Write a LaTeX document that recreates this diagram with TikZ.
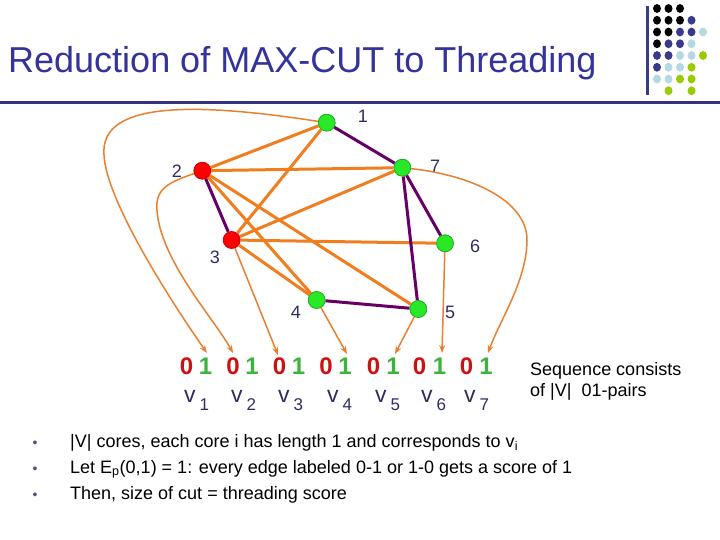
\documentclass[tikz,border=0pt]{standalone}
\usepackage{fontspec}
\setmainfont{Liberation Sans}
\usetikzlibrary{arrows.meta}
\definecolor{titc}{RGB}{51,51,153}
\definecolor{rulec}{RGB}{51,51,128}
\definecolor{labc}{RGB}{45,45,100}
\definecolor{orE}{RGB}{240,125,30}
\definecolor{orT}{RGB}{232,128,48}
\definecolor{puE}{RGB}{102,0,102}
\definecolor{gfill}{RGB}{40,232,40}
\definecolor{gline}{RGB}{30,170,30}
\definecolor{rfill}{RGB}{255,0,0}
\definecolor{rline}{RGB}{200,0,0}
\definecolor{zeroc}{RGB}{204,17,17}
\definecolor{onec}{RGB}{60,180,60}
\definecolor{dnavy}{RGB}{58,58,140}
\definecolor{dlight}{RGB}{180,216,228}
\definecolor{dgreen}{RGB}{153,204,0}
\definecolor{bulc}{RGB}{80,80,130}
\newcommand\myvlab[1]{v\hspace{4pt}\raisebox{-8pt}{\fontsize{17}{17}\selectfont #1}}
\begin{document}
\begin{tikzpicture}[x=1pt,y=-1pt,
  vert/.style={circle,minimum size=17pt,inner sep=0pt,line width=0.8pt},
  gv/.style={vert,fill=gfill,draw=gline},
  rv/.style={vert,fill=rfill,draw=rline},
  lab/.style={font=\fontsize{18}{18}\selectfont,text=labc,inner sep=0pt},
  cutE/.style={draw=orE,line width=3pt},
  inE/.style={draw=puE,line width=3pt},
  thr/.style={draw=orT,line width=1.5pt,-{Stealth[length=8pt,width=6pt]}},
  zero/.style={font=\bfseries\fontsize{24}{24}\selectfont,text=zeroc,inner sep=0pt},
  one/.style={font=\bfseries\fontsize{24}{24}\selectfont,text=onec,inner sep=0pt},
  vl/.style={font=\fontsize{23}{23}\selectfont,text=labc,inner sep=0pt,anchor=base west},
  btext/.style={font=\fontsize{18}{18}\selectfont,anchor=base west,inner sep=0pt},
  bul/.style={font=\fontsize{14}{14}\selectfont,text=bulc,inner sep=0pt,anchor=base}
]
\useasboundingbox (0,0) rectangle (720,540);
% header
\node[anchor=base west,inner sep=0pt,font=\fontsize{36}{40}\selectfont,text=titc] (title) at (8,73) {Reduction of MAX-CUT to Threading};
\draw[rulec,line width=3pt] (0,102.5) -- (720,102.5);
\draw[dnavy,line width=3pt] (647,6) -- (647,95);
\foreach \c/\r/\col in {1/1/black,2/1/black,3/1/black,
  1/2/black,2/2/black,3/2/black,4/2/dnavy,
  1/3/black,2/3/black,3/3/dnavy,4/3/dnavy,5/3/dlight,
  1/4/black,2/4/dnavy,3/4/dnavy,4/4/dlight,
  1/5/dnavy,2/5/dnavy,3/5/dlight,4/5/dlight,5/5/dgreen,
  1/6/dnavy,2/6/dlight,3/6/dlight,4/6/dgreen,
  1/7/dlight,2/7/dlight,3/7/dgreen,4/7/dgreen,
  2/8/dgreen,4/8/dgreen}
  \fill[\col] ({657+(\c-1)*11.5},{8.5+(\r-1)*11.75}) ellipse (4pt and 4.4pt);
% vertices
\node[gv] (n1) at (326.7,122.7) {};
\node[gv] (n7) at (402.3,167.7) {};
\node[rv] (n2) at (202.3,170.7) {};
\node[rv] (n3) at (231.7,240) {};
\node[gv] (n6) at (445,243.3) {};
\node[gv] (n4) at (316.7,300) {};
\node[gv] (n5) at (418.3,309) {};
\node[lab] (l1) at (363,116) {1};
\node[lab] (l7) at (435,166) {7};
\node[lab] (l2) at (177,171) {2};
\node[lab] (l3) at (215,257) {3};
\node[lab] (l6) at (475,246) {6};
\node[lab] (l4) at (296,312) {4};
\node[lab] (l5) at (450,312) {5};
% edges
\draw[cutE] (n1) -- (n2);
\draw[cutE] (n1) -- (n3);
\draw[cutE] (n2) -- (n7);
\draw[cutE] (n3) -- (n7);
\draw[cutE] (n3) -- (n6);
\draw[cutE] (n2) -- (n4);
\draw[cutE] (n2) -- (n5);
\draw[cutE] (n3) -- (n4);
\draw[inE] (n1) -- (n7);
\draw[inE] (n2) -- (n3);
\draw[inE] (n7) -- (n6);
\draw[inE] (n7) -- (n5);
\draw[inE] (n4) -- (n5);
% arrow targets
\coordinate (t1) at (207,353);
\coordinate (t2) at (233,353);
\coordinate (t3) at (278,355);
\coordinate (t4) at (347,354);
\coordinate (t5) at (395,354);
\coordinate (t6) at (442,353);
\coordinate (t7) at (488,353);
\draw[thr] (n1) .. controls (180,100) and (100,105) .. (104,155) .. controls (106,200) and (170,300) .. (t1);
\draw[thr] (n2) .. controls (170,182) and (155,188) .. (157,210) .. controls (160,260) and (215,320) .. (t2);
\draw[thr] (n3) -- (t3);
\draw[thr] (n4) -- (t4);
\draw[thr] (n5) -- (t5);
\draw[thr] (n6) -- (t6);
\draw[thr] (n7) .. controls (470,175) and (527,200) .. (527,240) .. controls (527,280) and (500,320) .. (t7);
% sequence
\node[zero] (z1) at (186.5,366) {0}; \node[one] (o1) at (205.5,366) {1};
\node[zero] (z2) at (233,366) {0};   \node[one] (o2) at (252,366) {1};
\node[zero] (z3) at (279.5,366) {0}; \node[one] (o3) at (298.5,366) {1};
\node[zero] (z4) at (326,366) {0};   \node[one] (o4) at (345,366) {1};
\node[zero] (z5) at (373.5,366) {0}; \node[one] (o5) at (393,366) {1};
\node[zero] (z6) at (419.5,366) {0}; \node[one] (o6) at (439.5,366) {1};
\node[zero] (z7) at (466.5,366) {0}; \node[one] (o7) at (486,366) {1};
\node[vl] (v1) at (184,402) {\myvlab{1}};
\node[vl] (v2) at (231,402) {\myvlab{2}};
\node[vl] (v3) at (278,402) {\myvlab{3}};
\node[vl] (v4) at (327,402) {\myvlab{4}};
\node[vl] (v5) at (375,402) {\myvlab{5}};
\node[vl] (v6) at (421,402) {\myvlab{6}};
\node[vl] (v7) at (464,402) {\myvlab{7}};
\node[btext] (seq1) at (530,375) {Sequence consists};
\node[btext] (seq2) at (530,396) {of |V|\ \ 01-pairs};
% bullets
\node[bul] (b1) at (35,447) {•};
\node[bul] (b2) at (35,473) {•};
\node[bul] (b3) at (35,499) {•};
\node[btext] (bt1) at (70,447) {|V| cores, each core i has length 1 and corresponds to v\textsubscript{i}};
\node[btext] (bt2) at (70,473) {Let E\textsubscript{p}(0,1) = 1: every edge labeled 0-1 or 1-0 gets a score of 1};
\node[btext] (bt3) at (70,499) {Then, size of cut = threading score};
\end{tikzpicture}
\end{document}
